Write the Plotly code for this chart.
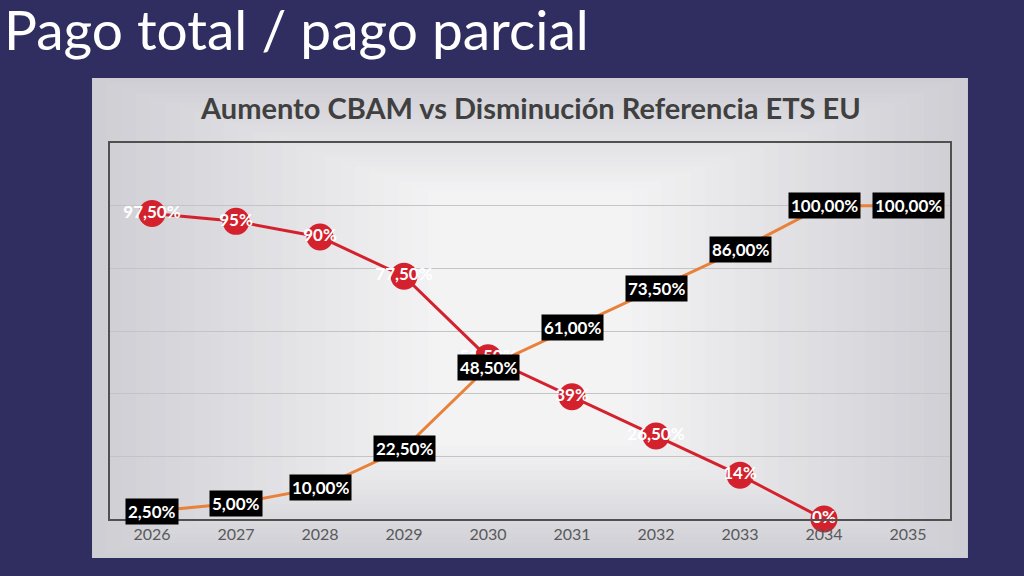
import plotly.graph_objects as go

years = ["2026", "2027", "2028", "2029", "2030", "2031", "2032", "2033", "2034", "2035"]
ets_values = [97.5, 95, 90, 77.5, 51.5, 39, 26.5, 14, 0, None]
ets_labels = ["97,50%", "95%", "90%", "77,50%", "51,50%", "39%", "26,50%", "14%", "0%", ""]
cbam_values = [2.5, 5, 10, 22.5, 48.5, 61, 73.5, 86, 100, 100]
cbam_labels = ["2,50%", "5,00%", "10,00%", "22,50%", "48,50%", "61,00%", "73,50%", "86,00%", "100,00%", "100,00%"]
y_ticks = [0, 20, 40, 60, 80, 100, 120]

RED = "#d3222d"
ORANGE = "#e8813a"
FONT = "Lato"

fig = go.Figure()

fig.add_trace(go.Scatter(
    x=years, y=cbam_values, mode="lines+markers",
    line=dict(color=ORANGE, width=3),
    marker=dict(color=ORANGE, size=24),
    cliponaxis=False,
    hoverinfo="skip", showlegend=False,
))
fig.add_trace(go.Scatter(
    x=years, y=ets_values, mode="lines+markers+text",
    text=ets_labels, textposition="middle center",
    textfont=dict(color="white", size=17, family=FONT, weight="bold"),
    line=dict(color=RED, width=3),
    marker=dict(color=RED, size=27),
    cliponaxis=False,
    hoverinfo="skip", showlegend=False,
))

for i, (v, lab) in enumerate(zip(cbam_values, cbam_labels)):
    fig.add_annotation(
        x=i, y=v, text=lab, showarrow=False,
        font=dict(color="white", size=17, family=FONT, weight="bold"),
        bgcolor="black", borderpad=2,
        xanchor="center", yanchor="middle",
    )

# panel with soft gradient (concentric rectangles, edge gray -> center near white)
x0, x1, y0, y1 = -0.0214, 1.0214, -0.1037, 1.1729
n = 24
c_edge = (206, 206, 212)
c_mid = (243, 243, 244)
for i in range(n):
    t = i / (n - 1)
    c = tuple(int(round(a + (b - a) * t)) for a, b in zip(c_edge, c_mid))
    dx = t * 0.40
    dy = t * 0.30
    fig.add_shape(type="rect", xref="paper", yref="paper",
                  x0=x0 + dx, x1=x1 - dx, y0=y0 + dy, y1=y1 - dy,
                  fillcolor="rgb(%d,%d,%d)" % c, line=dict(width=0), layer="below")

fig.add_annotation(
    xref="paper", yref="paper", x=0.5, y=1.0957,
    text="Aumento CBAM vs Disminución Referencia ETS EU",
    showarrow=False, xanchor="center", yanchor="middle",
    font=dict(size=29, color="#404040", family=FONT, weight="bold"),
)

fig.update_layout(
    width=1024, height=576,
    margin=dict(l=110, r=74, t=143, b=57),
    paper_bgcolor="#302e60",
    plot_bgcolor="rgba(0,0,0,0)",
    title=dict(text="Pago total / pago parcial", x=0.004, xanchor="left",
               y=0.98, yanchor="top", yref="container", pad=dict(t=0, l=0),
               font=dict(size=55, color="white", family=FONT)),
    xaxis=dict(type="category", range=[-0.5, 9.5], showgrid=False,
               showline=True, linecolor="#505050", linewidth=2, mirror=True,
               ticks="", tickfont=dict(size=16, color="#595959", family=FONT)),
    yaxis=dict(range=[0, 120], tickvals=y_ticks, showticklabels=False,
               showgrid=True, gridcolor="#c4c4c4", gridwidth=1,
               showline=True, linecolor="#505050", linewidth=2, mirror=True,
               zeroline=False, ticks=""),
)

fig.write_html("out.html", config={"displayModeBar": False},
               post_script="document.body.style.margin='0';document.body.style.padding='0';")
